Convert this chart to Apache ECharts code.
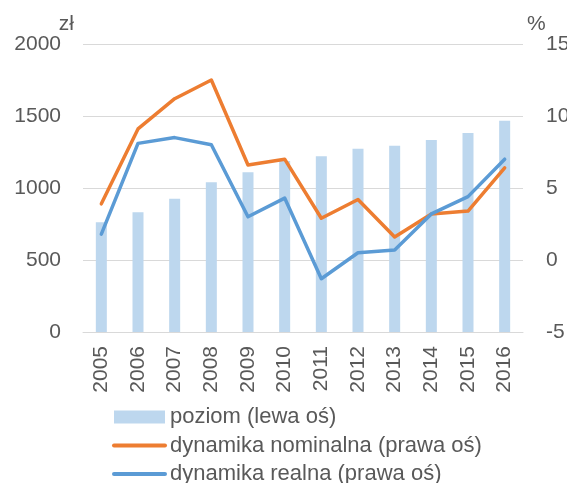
<!DOCTYPE html>
<html>
<head>
<meta charset="utf-8">
<script src="https://cdn.jsdelivr.net/npm/echarts@6/dist/echarts.min.js"></script>
<style>html,body{margin:0;padding:0;background:#fff}#c{width:567px;height:483px}</style>
</head>
<body>
<div id="c"></div>
<script>
var years = ['2005','2006','2007','2008','2009','2010','2011','2012','2013','2014','2015','2016'];
var poziom = [762, 831, 926, 1040, 1109, 1188, 1221, 1273, 1294, 1333, 1382, 1467];
var nominalna = [3.9, 9.1, 11.2, 12.5, 6.6, 7.0, 2.9, 4.2, 1.6, 3.2, 3.4, 6.4];
var realna = [1.8, 8.1, 8.5, 8.0, 3.0, 4.3, -1.3, 0.5, 0.7, 3.2, 4.4, 7.0];
var leftTicks = {min: 0, max: 2000, interval: 500};
var rightTicks = {min: -5, max: 15, interval: 5};
var names = ['poziom (lewa oś)', 'dynamika nominalna (prawa oś)', 'dynamika realna (prawa oś)'];

var FONT = '"Liberation Sans", Arial, sans-serif';
var TXT = '#595959';
var FS = 21;
var chart = echarts.init(document.getElementById('c'), null, {renderer: 'canvas'});
chart.setOption({
  animation: false,
  textStyle: {fontFamily: FONT},
  grid: {left: 83, right: 44, top: 44, bottom: 151, containLabel: false, outerBoundsMode: 'none'},
  legend: {
    orient: 'vertical', left: 112, top: 406, padding: 0, height: 120,
    itemWidth: 51, itemHeight: 13, itemGap: 6.5,
    textStyle: {fontFamily: FONT, fontSize: 22, color: TXT, lineHeight: 22},
    data: [
      {name: names[0], icon: 'rect'},
      {name: names[1], itemStyle: {opacity: 0}, lineStyle: {width: 4}},
      {name: names[2], itemStyle: {opacity: 0}, lineStyle: {width: 4}}
    ]
  },
  xAxis: {
    type: 'category', data: years,
    axisLine: {show: true, lineStyle: {color: '#D9D9D9', width: 1}},
    axisTick: {show: false},
    axisLabel: {rotate: 90, margin: 14, fontSize: FS, color: TXT, fontFamily: FONT}
  },
  yAxis: [
    {
      type: 'value', min: leftTicks.min, max: leftTicks.max, interval: leftTicks.interval,
      name: 'zł', nameLocation: 'end', nameGap: 9, nameMoveOverlap: false,
      nameTextStyle: {fontSize: FS, color: TXT, fontFamily: FONT, align: 'right', padding: [0, 9, 0, 0]},
      axisLine: {show: false}, axisTick: {show: false},
      axisLabel: {fontSize: FS, color: TXT, margin: 22, fontFamily: FONT, formatter: function (v) { return String(v); }},
      splitLine: {lineStyle: {color: '#D9D9D9', width: 1}}
    },
    {
      type: 'value', min: rightTicks.min, max: rightTicks.max, interval: rightTicks.interval,
      name: '%', nameLocation: 'end', nameGap: 9, nameMoveOverlap: false,
      nameTextStyle: {fontSize: FS, color: TXT, fontFamily: FONT, align: 'left', padding: [0, 0, 0, 4]},
      axisLine: {show: false}, axisTick: {show: false},
      axisLabel: {fontSize: FS, color: TXT, margin: 23, fontFamily: FONT, formatter: function (v) { return String(v); }},
      splitLine: {show: false}
    }
  ],
  series: [
    {
      name: names[0], type: 'bar', yAxisIndex: 0, data: poziom,
      barWidth: 11, itemStyle: {color: '#BDD7EE'}
    },
    {
      name: names[1], type: 'line', yAxisIndex: 1, data: nominalna,
      symbol: 'none', lineStyle: {color: '#ED7D31', width: 3.5, cap: 'round', join: 'round'},
      itemStyle: {color: '#ED7D31'}
    },
    {
      name: names[2], type: 'line', yAxisIndex: 1, data: realna,
      symbol: 'none', lineStyle: {color: '#5B9BD5', width: 3.5, cap: 'round', join: 'round'},
      itemStyle: {color: '#5B9BD5'}
    }
  ]
});
</script>
</body>
</html>
